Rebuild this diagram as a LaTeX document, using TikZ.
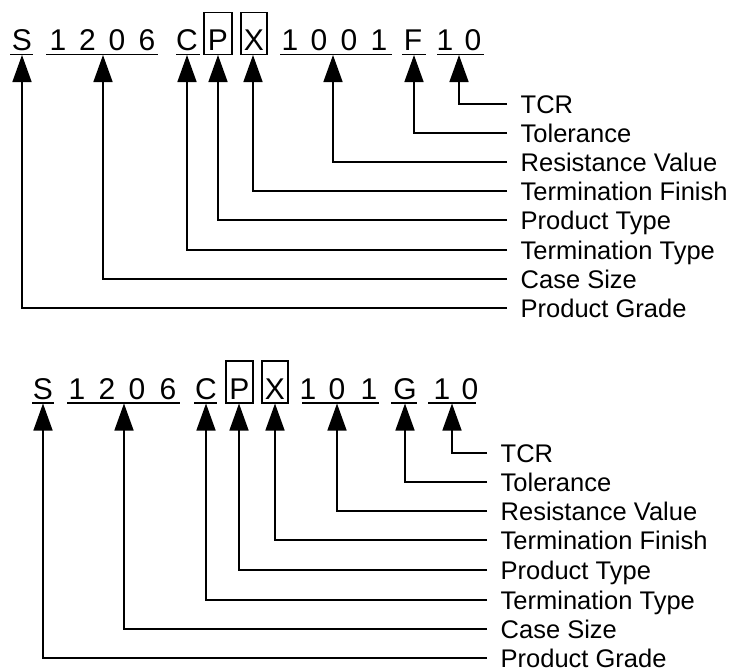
\documentclass[tikz,border=0pt]{standalone}
\usepackage{fontspec}
\setmainfont{Liberation Sans}
\usetikzlibrary{arrows.meta}
\begin{document}
\begin{tikzpicture}[x=1pt,y=-1pt,
  code/.style={anchor=base, inner sep=0pt, font=\fontsize{30}{30}\selectfont},
  lbl/.style={anchor=west, inner xsep=13.5pt, inner ysep=0pt, text height=19pt, text depth=0pt, font=\fontsize{25.5}{25.5}\selectfont},
  uline/.style={line width=1.4pt},
  cbox/.style={line width=1.4pt},
  conn/.style={line width=1.5pt, -{Triangle[length=27pt,width=19pt]}}]
\useasboundingbox (0,0) rectangle (737,670);

% ---------------- top code ----------------
\foreach \c/\x/\n in {S/22/s, 1/58/a, 2/87.5/b, 0/117/c, 6/147/d, C/187/e, P/218/f, X/254/g, 1/290/h, 0/319/i, 0/349/j, 1/379/k, F/413/l, 1/445/m, 0/473/n}
  \node[code] (T\n) at (\x,50) {\c};
\draw[uline] (10,54.5) -- (33,54.5);
\draw[uline] (46,54.5) -- (158,54.5);
\draw[uline] (176,54.5) -- (200,54.5);
\draw[uline] (280,54.5) -- (392,54.5);
\draw[uline] (402,54.5) -- (426,54.5);
\draw[uline] (437,54.5) -- (484,54.5);
\draw[cbox] (204,12.5) rectangle (232,54.5);
\draw[cbox] (241,12.5) rectangle (267,54.5);

\coordinate (TtS) at (22,55);
\coordinate (Tt1206) at (103,55);
\coordinate (TtC) at (187,55);
\coordinate (TtP) at (218,55);
\coordinate (TtX) at (253,55);
\coordinate (Tt1001) at (333,55);
\coordinate (TtF) at (414,55);
\coordinate (Tt10) at (459,55);

\node[lbl] (TL1) at (507,104) {TCR};
\node[lbl] (TL2) at (507,133) {Tolerance};
\node[lbl] (TL3) at (507,162) {Resistance Value};
\node[lbl] (TL4) at (507,191) {Termination Finish};
\node[lbl] (TL5) at (507,220) {Product Type};
\node[lbl] (TL6) at (507,250) {Termination Type};
\node[lbl] (TL7) at (507,279) {Case Size};
\node[lbl] (TL8) at (507,308) {Product Grade};

\draw[conn] (TL1.west) -| (Tt10);
\draw[conn] (TL2.west) -| (TtF);
\draw[conn] (TL3.west) -| (Tt1001);
\draw[conn] (TL4.west) -| (TtX);
\draw[conn] (TL5.west) -| (TtP);
\draw[conn] (TL6.west) -| (TtC);
\draw[conn] (TL7.west) -| (Tt1206);
\draw[conn] (TL8.west) -| (TtS);

% ---------------- bottom code ----------------
\foreach \c/\x/\n in {S/43/s, 1/77/a, 2/107/b, 0/137/c, 6/168/d, C/206/e, P/239.5/f, X/275/g, 1/308/h, 0/337/i, 1/369/j, G/405/k, 1/442/l, 0/470/m}
  \node[code] (B\n) at (\x,399) {\c};
\draw[uline] (32,403) -- (54,403);
\draw[uline] (67,403) -- (180,403);
\draw[uline] (194,403) -- (217,403);
\draw[uline] (302,403) -- (379,403);
\draw[uline] (391,403) -- (417,403);
\draw[uline] (428,403) -- (476,403);
\draw[cbox] (226,361) rectangle (253,403);
\draw[cbox] (262,361) rectangle (288,403);

\coordinate (BtS) at (43,403.5);
\coordinate (Bt1206) at (124,403.5);
\coordinate (BtC) at (206,403.5);
\coordinate (BtP) at (239,403.5);
\coordinate (BtX) at (275,403.5);
\coordinate (Bt101) at (337,403.5);
\coordinate (BtG) at (405,403.5);
\coordinate (Bt10) at (452,403.5);

\node[lbl] (BL1) at (487,453) {TCR};
\node[lbl] (BL2) at (487,482) {Tolerance};
\node[lbl] (BL3) at (487,511) {Resistance Value};
\node[lbl] (BL4) at (487,540) {Termination Finish};
\node[lbl] (BL5) at (487,570) {Product Type};
\node[lbl] (BL6) at (487,600) {Termination Type};
\node[lbl] (BL7) at (487,629) {Case Size};
\node[lbl] (BL8) at (487,658) {Product Grade};

\draw[conn] (BL1.west) -| (Bt10);
\draw[conn] (BL2.west) -| (BtG);
\draw[conn] (BL3.west) -| (Bt101);
\draw[conn] (BL4.west) -| (BtX);
\draw[conn] (BL5.west) -| (BtP);
\draw[conn] (BL6.west) -| (BtC);
\draw[conn] (BL7.west) -| (Bt1206);
\draw[conn] (BL8.west) -| (BtS);
\end{tikzpicture}
\end{document}
